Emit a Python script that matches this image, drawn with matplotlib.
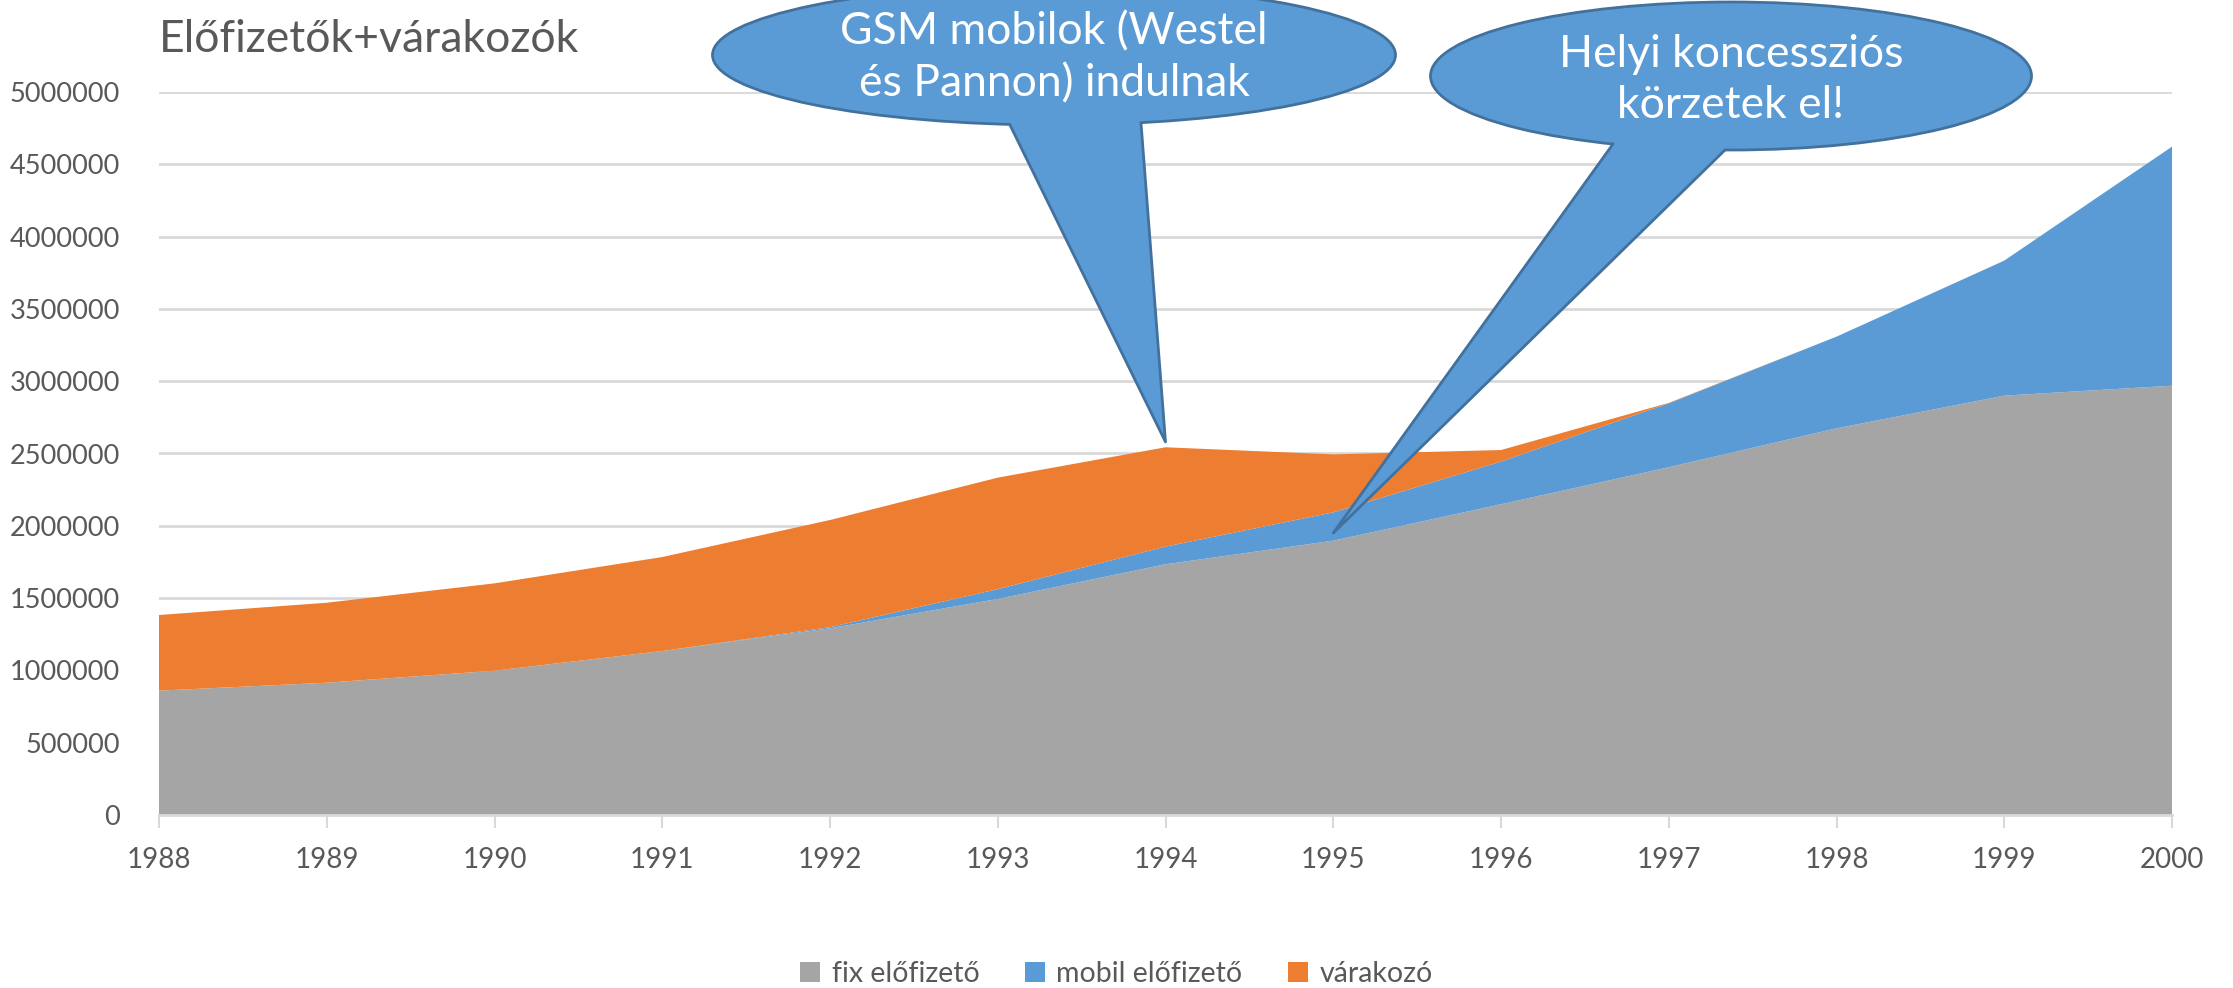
import matplotlib
matplotlib.use('Agg')
import matplotlib.pyplot as plt
from matplotlib.patches import Ellipse, Polygon
from matplotlib.lines import Line2D

plt.rcParams['font.family'] = ['Lato', 'DejaVu Sans']

# adatok
years = [1988, 1989, 1990, 1991, 1992, 1993, 1994, 1995, 1996, 1997, 1998, 1999, 2000]
fix_elofizeto = [860000, 915000, 998000, 1134000, 1291000, 1494000, 1734000,
                 1897000, 2149000, 2405000, 2674000, 2900000, 2969000]
mobil_elofizeto = [0, 0, 0, 0, 8000, 68000, 122000, 196000, 295000, 442000,
                   634000, 934000, 1653000]
varakozo = [523000, 553000, 604000, 650000, 741000, 771000, 687000, 401000,
            80000, 3000, 0, 0, 0]
series_labels = ['fix előfizető', 'mobil előfizető', 'várakozó']
title = 'Előfizetők+várakozók'
callout_texts = ['GSM mobilok (Westel\nés Pannon) indulnak', 'Helyi koncessziós\nkörzetek el!']
callout_years = [1994, 1995]
callout_values = [2580000, 1950000]

GRAY = '#A5A5A5'
BLUE = '#5B9BD5'
ORANGE = '#ED7D31'
TXT = '#595959'
GRID = '#D9D9D9'

W, H = 2233, 988
fig = plt.figure(figsize=(W / 100, H / 100), dpi=100)
ax = fig.add_axes([159 / W, 1 - 815 / H, (2172 - 159) / W, (815 - 92) / H])

ax.stackplot(years, fix_elofizeto, mobil_elofizeto, varakozo,
             colors=[GRAY, BLUE, ORANGE], labels=series_labels, linewidth=0)

ax.set_xlim(1988, 2000)
ax.set_ylim(0, 5000000)
ax.set_xticks(years)
ax.set_yticks(range(0, 5000001, 500000))
ax.yaxis.set_major_formatter(matplotlib.ticker.FuncFormatter(lambda v, p: f'{int(v)}'))
ax.grid(axis='y', color=GRID, linewidth=2)
ax.set_axisbelow(True)
for s in ['top', 'right', 'left']:
    ax.spines[s].set_visible(False)
ax.spines['bottom'].set_color(GRID)
ax.spines['bottom'].set_linewidth(2)
ax.spines['bottom'].set_zorder(5)
ax.tick_params(axis='x', colors=GRID, length=9, width=1.5, pad=14, labelsize=20, labelcolor=TXT)
ax.tick_params(axis='y', length=0, pad=28, labelsize=19.5, labelcolor=TXT)

fig.text(159 / W, 1 - 40 / H, title, fontsize=32, color=TXT, ha='left', va='center')

fig.legend(loc='center', bbox_to_anchor=(0.5, 1 - 974 / H), ncol=3, frameon=False,
           fontsize=20.5, labelcolor=TXT, handlelength=0.7, handleheight=0.7,
           handletextpad=0.4, columnspacing=1.6)

# buborékok (pixel koordinátákban)
ov = fig.add_axes([0, 0, 1, 1], facecolor='none')
ov.set_xlim(0, W)
ov.set_ylim(H, 0)
ov.axis('off')

bubbles = [
    dict(c=(1054, 55), w=683, h=140, base=[(1010, 125), (1141, 123)], ty=58),
    dict(c=(1731, 76), w=601, h=148, base=[(1613, 144), (1725, 150)], ty=80),
]
EDGE = '#41719C'
for b, txt, yr, val in zip(bubbles, callout_texts, callout_years, callout_values):
    tx, ty = ax.transData.transform((yr, val))
    tip = (tx, H - ty)
    ov.add_patch(Ellipse(b['c'], b['w'], b['h'], facecolor=BLUE, edgecolor=EDGE, linewidth=2, zorder=10))
    (x1, y1), (x2, y2) = b['base']
    cx, cy = b['c']
    ov.add_patch(Polygon([(x1, y1), (x1, cy), (x2, cy), (x2, y2), tip], closed=True,
                         facecolor=BLUE, edgecolor='none', zorder=11))
    ov.add_line(Line2D([x1, tip[0], x2], [y1, tip[1], y2], color=EDGE, linewidth=2, zorder=12))
    ov.text(cx, b['ty'], txt, ha='center', va='center', fontsize=32, color='white',
            linespacing=1.32, zorder=13)

fig.savefig('out.png', dpi=100)
